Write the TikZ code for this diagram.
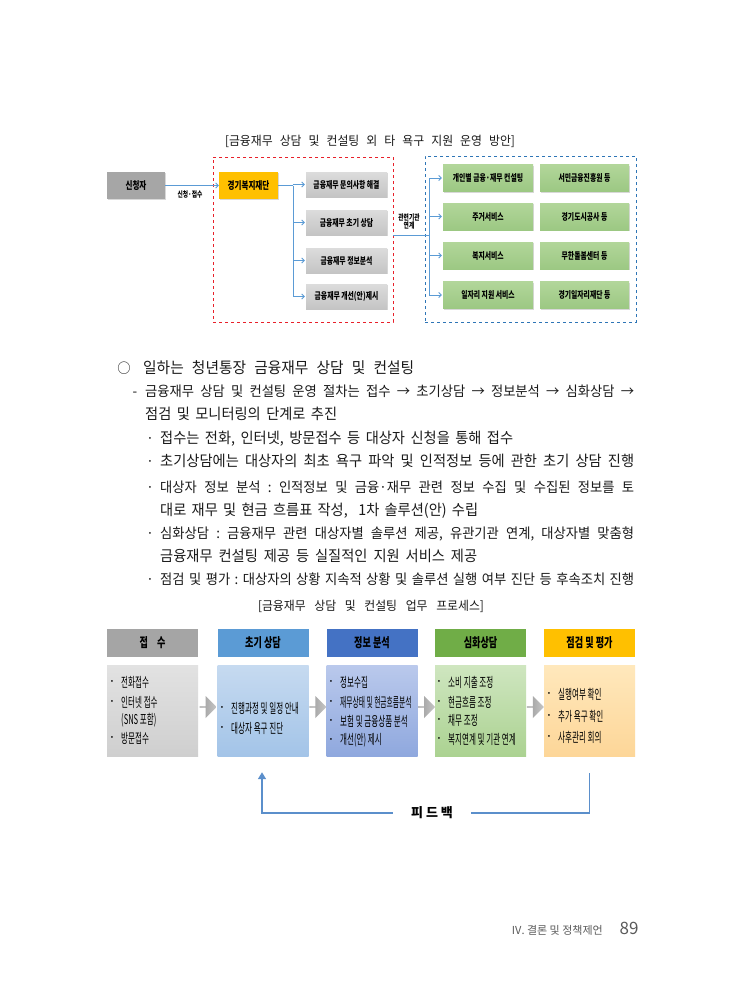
\documentclass[tikz,border=0pt]{standalone}
\usepackage{fontspec}
\setmainfont[Kerning=Off]{Noto Sans CJK KR}
\newfontfamily\bodyf[Kerning=Off,FakeStretch=0.95]{Noto Sans CJK KR}
\newfontfamily\condA[Kerning=Off,FakeStretch=0.56]{Noto Sans CJK KR}
\newfontfamily\condE[Kerning=Off,FakeStretch=0.5]{Noto Sans CJK KR}
\newfontfamily\condB[Kerning=Off,FakeStretch=0.7]{Noto Sans CJK KR}
\newfontfamily\condC[Kerning=Off,FakeStretch=0.72]{Noto Sans CJK KR}
\usetikzlibrary{shadows,arrows.meta,calc,shapes.arrows}
\newcommand\myfs[1]{\fontsize{#1}{#1}\selectfont}
\newcommand\jl[2]{\frenchspacing\hbox to #1pt{\spaceskip=0.3em plus 1fil minus 0.15em\relax #2}}
\definecolor{cGrayDark}{HTML}{A6A6A6}
\definecolor{cGrayT}{HTML}{DCDCDC}
\definecolor{cGrayB}{HTML}{C4C4C4}
\definecolor{cOrange}{HTML}{FFC000}
\definecolor{cGreenT}{HTML}{B2D69A}
\definecolor{cGreenB}{HTML}{9CC883}
\definecolor{cConn}{HTML}{5B9BD5}
\definecolor{cRed}{HTML}{E8202A}
\definecolor{cBlueDash}{HTML}{2E75B6}
\definecolor{hGray}{HTML}{A5A5A5}
\definecolor{hBlue}{HTML}{5B9BD5}
\definecolor{hNavy}{HTML}{4472C4}
\definecolor{hGreen}{HTML}{70AD47}
\definecolor{hGold}{HTML}{FFC000}
\definecolor{bGrayT}{HTML}{E2E2E2}
\definecolor{bGrayB}{HTML}{CFCFCF}
\definecolor{bBlueT}{HTML}{C6DAF0}
\definecolor{bBlueB}{HTML}{A3C4E8}
\definecolor{bNavyT}{HTML}{BAC9EC}
\definecolor{bNavyB}{HTML}{8FA8DE}
\definecolor{bGreenT}{HTML}{CFE6C0}
\definecolor{bGreenB}{HTML}{ABD291}
\definecolor{bGoldT}{HTML}{FFE8BC}
\definecolor{bGoldB}{HTML}{FDD698}
\definecolor{fbBlue}{HTML}{5B8FCB}
\definecolor{footGray}{HTML}{5A5A5A}
\definecolor{textBlack}{HTML}{1A1A1A}
\tikzset{
  tbox/.style={inner sep=0pt, font=\condC\bfseries\myfs{9.5},
    drop shadow={shadow xshift=1.2pt,shadow yshift=-1.2pt,opacity=0.3}},
  gbox/.style={tbox, minimum width=81pt, minimum height=25pt, top color=cGrayT, bottom color=cGrayB},
  grbox/.style={tbox, minimum height=27pt, top color=cGreenT, bottom color=cGreenB},
  conn/.style={draw=cConn, line width=0.8pt},
  mytip/.style={-{Straight Barb[length=2.5pt,width=5pt]}},
  lbl/.style={inner sep=0pt, font=\condC\bfseries\myfs{8}, align=center},
  txtline/.style={inner sep=0pt, anchor=base west, text=textBlack, font=\bodyf\myfs{15}},
  tight/.style={font=\bodyf\myfs{14}},
  mydot/.style={inner sep=0pt, anchor=base, text=textBlack, font=\bodyf\myfs{14}},
  captxt/.style={inner sep=0pt, anchor=base, text=textBlack, font=\bodyf\myfs{12.5}},
  hdr/.style={inner sep=0pt, minimum width=91pt, minimum height=28pt, font=\condB\bfseries\myfs{13}},
  bdy/.style={inner sep=0pt, minimum width=91pt, minimum height=91pt},
  btxt/.style={inner sep=0pt, anchor=west, font=\condA\myfs{13.5}},
  bdot/.style={inner sep=0pt, font=\myfs{7}},
  chev/.style={single arrow, single arrow head extend=3pt, minimum height=17pt, minimum width=22pt,
    inner sep=0pt, left color=gray!78, right color=gray!45, draw=none},
  fbline/.style={draw=fbBlue, line width=1.4pt}
}
\newcommand\bitem[4]{\node[bdot] (#1d) at (#2,#3) {•};\node[btxt] (#1) at (#2+9,#3) {#4};}
\begin{document}
\begin{tikzpicture}[x=1pt,y=-1pt]
\useasboundingbox (0,0) rectangle (741,1005);
\fill[white] (0,0) rectangle (741,1005);

% ---------- top diagram ----------
\node[captxt] (cap1) at (370,145) {\jl{290}{[금융재무 상담 및 컨설팅 외 타 욕구 지원 운영 방안]}};

\node[draw=cRed, dashed, line width=0.9pt, minimum width=180pt, minimum height=165pt, inner sep=0pt] (redbox) at (303,239.5) {};
\node[draw=cBlueDash, dashed, line width=0.9pt, minimum width=211pt, minimum height=166pt, inner sep=0pt] (bluebox) at (530.5,239) {};

\node[tbox, minimum width=58pt, minimum height=27pt, fill=cGrayDark, font=\condC\bfseries\myfs{10.5}] (sin) at (136,185.5) {신청자};
\node[tbox, minimum width=59pt, minimum height=27pt, fill=cOrange, font=\condC\bfseries\myfs{10.5}] (gg) at (248.5,185.5) {경기복지재단};

\node[gbox] (g1) at (346.5,184.5) {금융재무 문의사항 해결};
\node[gbox] (g2) at (346.5,222.5) {금융재무 초기 상담};
\node[gbox] (g3) at (346.5,260.5) {금융재무 정보분석};
\node[gbox] (g4) at (346.5,296.5) {금융재무 개선(안)제시};

\node[grbox, minimum width=90pt] (r1) at (488,178) {개인별 금융·재무 컨설팅};
\node[grbox, minimum width=90pt] (r2) at (488,216.5) {주거서비스};
\node[grbox, minimum width=90pt] (r3) at (488,255.5) {복지서비스};
\node[grbox, minimum width=90pt] (r4) at (488,295) {일자리 지원 서비스};
\node[grbox, minimum width=89pt] (s1) at (584.5,178) {서민금융진흥원 등};
\node[grbox, minimum width=89pt] (s2) at (584.5,216.5) {경기도시공사 등};
\node[grbox, minimum width=89pt] (s3) at (584.5,255.5) {무한돌봄센터 등};
\node[grbox, minimum width=89pt] (s4) at (584.5,295) {경기일자리재단 등};

\draw[conn, mytip] (sin.east) -- (gg.west);
\node[lbl] (lb1) at (190,194) {신청·접수};

\coordinate (lk) at (293,185.5);
\draw[conn] (gg.east) -- (lk);
\draw[conn] (lk) -- (lk |- g4.west);
\foreach \i in {1,2,3,4}{\draw[conn, mytip] (lk |- g\i.west) -- ([xshift=-1pt]g\i.west);}

\coordinate (rk) at (429,235);
\draw[conn] (redbox.east |- rk) -- (rk);
\draw[conn] (rk |- r1.west) -- (rk |- r4.west);
\foreach \i in {1,2,3,4}{\draw[conn, mytip] (rk |- r\i.west) -- ([xshift=-1pt]r\i.west);}
\node[lbl] (lb2) at (409,221) {관련기관\\연계};

% ---------- text (baselines = visual centre + 5.5) ----------
\node[mydot] (o1) at (124,373.5) {○};
\node[txtline, font=\bodyf\myfs{15.5}] (t1) at (143,373.5) {\jl{271}{일하는 청년통장 금융재무 상담 및 컨설팅}};
\node[mydot] (d2) at (135,396.5) {-};
\node[txtline, tight] (t2) at (145,396.5) {\jl{489}{금융재무 상담 및 컨설팅 운영 절차는 접수 → 초기상담 → 정보분석 → 심화상담 →}};
\node[txtline] (t3) at (145,419.5) {\jl{192}{점검 및 모니터링의 단계로 추진}};
\node[mydot] (d4) at (150,443) {·};
\node[txtline] (t4) at (160,443) {\jl{353}{접수는 전화, 인터넷, 방문접수 등 대상자 신청을 통해 접수}};
\node[mydot] (d5) at (150,466.5) {·};
\node[txtline] (t5) at (160,466.5) {\jl{474}{초기상담에는 대상자의 최초 욕구 파악 및 인적정보 등에 관한 초기 상담 진행}};
\node[mydot] (d6) at (150,492.5) {·};
\node[txtline, tight] (t6) at (160,492.5) {\jl{474}{대상자 정보 분석 : 인적정보 및 금융·재무 관련 정보 수집 및 수집된 정보를 토}};
\node[txtline] (t7) at (160,515.5) {\jl{318}{대로 재무 및 현금 흐름표 작성,\ \ 1차 솔루션(안) 수립}};
\node[mydot] (d8) at (150,538.5) {·};
\node[txtline, tight] (t8) at (160,538.5) {\jl{474}{심화상담 : 금융재무 관련 대상자별 솔루션 제공, 유관기관 연계, 대상자별 맞춤형}};
\node[txtline] (t9) at (160,561.5) {\jl{317}{금융재무 컨설팅 제공 등 실질적인 지원 서비스 제공}};
\node[mydot] (d10) at (150,584.5) {·};
\node[txtline, tight] (t10) at (160,584.5) {\jl{474}{점검 및 평가 : 대상자의 상황 지속적 상황 및 솔루션 실행 여부 진단 등 후속조치 진행}};

\node[captxt] (cap2) at (371,610.5) {\jl{226}{[금융재무 상담 및 컨설팅 업무 프로세스]}};

% ---------- bottom diagram ----------
\node[hdr, fill=hGray] (h1) at (152.5,643) {접\hspace{9pt}수};
\node[hdr, fill=hBlue] (h2) at (263,643) {초기 상담};
\node[hdr, fill=hNavy] (h3) at (372,643) {정보 분석};
\node[hdr, fill=hGreen] (h4) at (480.5,643) {심화상담};
\node[hdr, fill=hGold] (h5) at (589.5,643) {점검 및 평가};

\node[bdy, top color=bGrayT, bottom color=bGrayB] (b1) at (152.5,710.5) {};
\node[bdy, top color=bBlueT, bottom color=bBlueB] (b2) at (263,710.5) {};
\node[bdy, top color=bNavyT, bottom color=bNavyB] (b3) at (372,710.5) {};
\node[bdy, top color=bGreenT, bottom color=bGreenB] (b4) at (480.5,710.5) {};
\node[bdy, top color=bGoldT, bottom color=bGoldB] (b5) at (589.5,710.5) {};

\node[chev] (a1) at ($(b1.east)!0.5!(b2.west)+(0,-3.5)$) {};
\node[chev] (a2) at ($(b2.east)!0.5!(b3.west)+(0,-3.5)$) {};
\node[chev] (a3) at ($(b3.east)!0.5!(b4.west)+(0,-3.5)$) {};
\node[chev] (a4) at ($(b4.east)!0.5!(b5.west)+(0,-3.5)$) {};

\bitem{p11}{112}{682}{전화접수}
\bitem{p12}{112}{702}{인터넷 접수}
\node[btxt] (p13) at (121,720) {(SNS 포함)};
\bitem{p14}{112}{738}{방문접수}

\bitem{p21}{222}{708}{진행과정 및 일정 안내}
\bitem{p22}{222}{728}{대상자 욕구 진단}

\bitem{p31}{331}{682}{정보수집}
\node[bdot] (p32d) at (331,702) {•};
\node[btxt, font=\condE\myfs{13.5}] (p32) at (340,702) {재무상태 및 현금흐름분석};
\bitem{p33}{331}{721}{보험 및 금융상품 분석}
\bitem{p34}{331}{740}{개선(안) 제시}

\bitem{p41}{439}{682}{소비 지출 조정}
\bitem{p42}{439}{702}{현금흐름 조정}
\bitem{p43}{439}{720}{채무 조정}
\bitem{p44}{439}{739}{복지연계 및 기관 연계}

\bitem{p51}{549}{694}{실행여부 확인}
\bitem{p52}{549}{716}{추가 욕구 확인}
\bitem{p53}{549}{737}{사후관리 회의}

\node[inner sep=0pt, minimum width=78pt, font=\bfseries\myfs{13}] (fb) at (432,813) {피 드 백};
\coordinate (fR) at ($(b5.south)+(0,17)$);
\coordinate (fL) at ($(b2.south)+(-1,16)$);
\draw[fbline] (fb.east) -| (fR);
\draw[fbline, -{Triangle[length=7pt,width=8pt]}] (fb.west) -| (fL);

% ---------- footer ----------
\node[inner sep=0pt, anchor=east, text=footGray, font=\myfs{11}] (ft) at (603,930) {IV. 결론 및 정책제언};
\node[inner sep=0pt, text=footGray, font=\myfs{17}] (pg) at (629,928) {89};
\end{tikzpicture}
\end{document}
